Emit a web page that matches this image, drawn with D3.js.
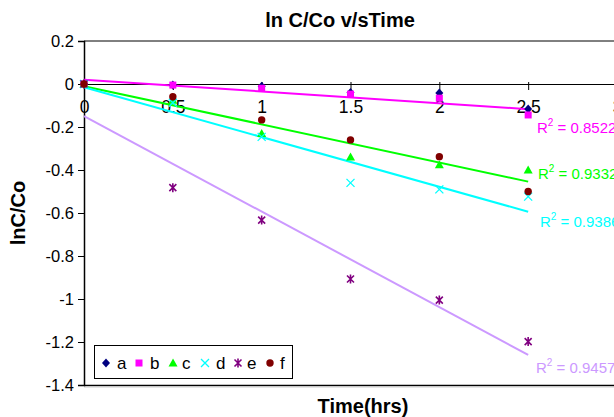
<!DOCTYPE html>
<html><head><meta charset="utf-8">
<script src="https://cdn.jsdelivr.net/npm/d3@7"></script>
<style>body{margin:0;background:#fff}svg{display:block;font-family:Arial,"Liberation Sans",sans-serif}</style>
</head><body><svg id="c" width="614" height="417"></svg>
<script>
const times = [0, 0.5, 1, 1.5, 2, 2.5];
const seriesNames = ["a","b","c","d","e","f"];
const seriesA = [0, -0.005, -0.01, -0.04, -0.042, -0.116];
const seriesB = [0, -0.005, -0.02, -0.047, -0.066, -0.144];
const seriesC = [0, -0.075, -0.23, -0.34, -0.376, -0.40];
const seriesD = [0, -0.087, -0.246, -0.46, -0.49, -0.524];
const seriesE = [0, -0.482, -0.633, -0.907, -1.005, -1.198];
const seriesF = [0, -0.059, -0.167, -0.26, -0.338, -0.50];
const seriesColors = ["#000080","#FF00FF","#00FF00","#00FFFF","#800080","#800000"];
const seriesSymbols = ["diamond","square","triangle","x","asterisk","circle"];
// trendlines: value at x=0 and at x=2.5
const trendNames = ["b","c","d","e"];
const trendStart = [0.02, -0.01, -0.015, -0.149];
const trendEnd = [-0.117, -0.454, -0.594, -1.26];
const trendColors = ["#FF00FF","#00FF00","#00FFFF","#CC99FF"];
const trendR2 = ["0.8522","0.9332","0.9386","0.9457"];
const xTicks = [0, 0.5, 1, 1.5, 2, 2.5, 3];
const yTicks = [0.2, 0, -0.2, -0.4, -0.6, -0.8, -1, -1.2, -1.4];
const titleText = "ln C/Co v/sTime";
const xTitle = "Time(hrs)";
const yTitle = "lnC/Co";

const allSeries = [seriesA, seriesB, seriesC, seriesD, seriesE, seriesF];
const svg = d3.select("#c");
const x = d3.scaleLinear().domain([0, 3]).range([84, 617]);
const y = d3.scaleLinear().domain([-1.4, 0.2]).range([385, 41]);

// plot frame
svg.append("line").attr("x1", x(0)).attr("x2", 614).attr("y1", y(0.2)).attr("y2", y(0.2)).attr("stroke", "#000").attr("stroke-width", 1);
svg.append("line").attr("x1", x(0)).attr("x2", 614).attr("y1", y(-1.4)+0.5).attr("y2", y(-1.4)+0.5).attr("stroke", "#000").attr("stroke-width", 1.5);
svg.append("line").attr("x1", x(0)).attr("x2", 614).attr("y1", y(-1.4)+2).attr("y2", y(-1.4)+2).attr("stroke", "#ccc").attr("stroke-width", 1);

// y axis
const yAxis = d3.axisLeft(y).tickValues(yTicks).tickSize(6).tickPadding(4).tickFormat(d => String(+d.toFixed(1)));
const gy = svg.append("g").attr("transform", `translate(${x(0)},0)`).call(yAxis);
gy.attr("font-size", null).attr("font-family", null);
gy.select(".domain").attr("stroke", "#000").attr("stroke-width", 1.5);
gy.selectAll(".tick line").attr("stroke", "#000");
gy.selectAll(".tick text").attr("font-size", 16.5).attr("fill", "#000");

// x axis at y=0
const xAxis = d3.axisBottom(x).tickValues(xTicks).tickSize(6).tickPadding(11).tickFormat(d => String(d));
const gx = svg.append("g").attr("transform", `translate(0,${y(0)})`).call(xAxis);
gx.attr("font-size", null).attr("font-family", null);
gx.select(".domain").attr("stroke", "#000").attr("stroke-width", 1);
gx.selectAll(".tick line").attr("stroke", "#000").attr("y1", -2);
gx.selectAll(".tick text").attr("font-size", 17.5).attr("fill", "#000");

// trendlines
const tx0 = 0, tx1 = 2.5;
trendNames.forEach((n, i) => {
  const pts = [[tx0, trendStart[i]], [tx1, trendEnd[i]]];
  svg.append("path").datum(pts)
    .attr("d", d3.line().x(d => x(d[0])).y(d => y(d[1])))
    .attr("stroke", trendColors[i]).attr("stroke-width", 2).attr("fill", "none");
});

// markers
function marker(g, type, color, cx, cy) {
  if (type === "diamond") {
    g.append("path").attr("d", `M${cx},${cy-4.5}L${cx+4},${cy}L${cx},${cy+4.5}L${cx-4},${cy}Z`).attr("fill", color);
  } else if (type === "square") {
    g.append("rect").attr("x", cx-3.5).attr("y", cy-3.5).attr("width", 7).attr("height", 7).attr("fill", color);
  } else if (type === "triangle") {
    g.append("path").attr("d", `M${cx},${cy-4.5}L${cx+4.5},${cy+3.5}L${cx-4.5},${cy+3.5}Z`).attr("fill", color);
  } else if (type === "x") {
    g.append("path").attr("d", `M${cx-4},${cy-4}L${cx+4},${cy+4}M${cx-4},${cy+4}L${cx+4},${cy-4}`).attr("stroke", color).attr("stroke-width", 1.3);
  } else if (type === "asterisk") {
    g.append("path").attr("d", `M${cx-3.5},${cy-3.5}L${cx+3.5},${cy+3.5}M${cx-3.5},${cy+3.5}L${cx+3.5},${cy-3.5}M${cx},${cy-4.5}L${cx},${cy+4.5}`).attr("stroke", color).attr("stroke-width", 1.6);
  } else {
    g.append("circle").attr("cx", cx).attr("cy", cy).attr("r", 3.7).attr("fill", color);
  }
}
const gm = svg.append("g");
allSeries.forEach((vals, i) => {
  vals.forEach((v, j) => marker(gm, seriesSymbols[i], seriesColors[i], x(times[j]), y(v)));
});

// R² labels
const r2Pos = [[537, 133], [538, 179], [540, 227], [536, 373]];
trendR2.forEach((r, i) => {
  const t = svg.append("text").attr("x", r2Pos[i][0]).attr("y", r2Pos[i][1]).attr("font-size", 15).attr("fill", trendColors[i]);
  t.append("tspan").text("R");
  t.append("tspan").attr("font-size", 10).attr("dy", -7).text("2");
  t.append("tspan").attr("dy", 7).text(" = " + r);
});

// legend
svg.append("rect").attr("x", 94.5).attr("y", 345.5).attr("width", 198).attr("height", 33).attr("fill", "#fff").attr("stroke", "#000").attr("stroke-width", 1);
const legMarkX = [106, 139, 173, 205, 238, 270];
const legTextX = [117, 150, 182, 216, 247, 280];
const gl = svg.append("g");
seriesNames.forEach((n, i) => {
  marker(gl, seriesSymbols[i], seriesColors[i], legMarkX[i], 363);
  gl.append("text").attr("x", legTextX[i]).attr("y", 369).attr("font-size", 17).attr("fill", "#000").text(n);
});

// titles
svg.append("text").attr("x", 340).attr("y", 27).attr("text-anchor", "middle").attr("font-size", 20).attr("font-weight", "bold").text(titleText);
svg.append("text").attr("x", 363).attr("y", 413).attr("text-anchor", "middle").attr("font-size", 20).attr("font-weight", "bold").text(xTitle);
svg.append("text").attr("transform", "translate(25,213) rotate(-90)").attr("text-anchor", "middle").attr("font-size", 20).attr("font-weight", "bold").text(yTitle);
</script></body></html>
